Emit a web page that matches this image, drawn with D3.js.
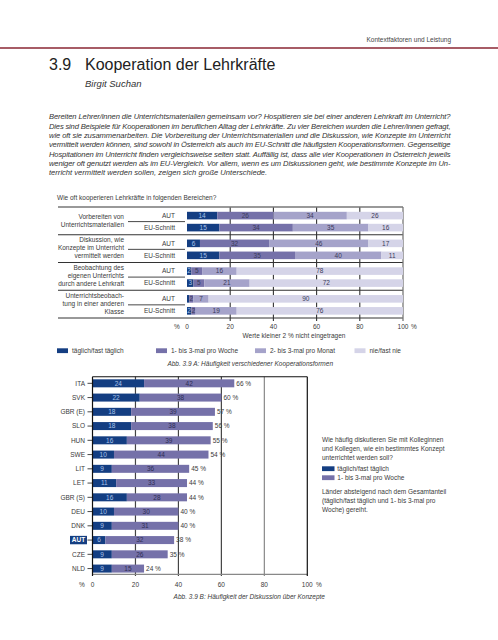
<!DOCTYPE html>
<html><head><meta charset="utf-8">
<script src="https://cdn.jsdelivr.net/npm/d3@7"></script>
<style>
html,body{margin:0;padding:0;background:#fff;}
svg{display:block;font-family:"Liberation Sans",Arial,sans-serif;}
</style></head>
<body>
<script>
// ---------- DATA ----------
const headerText = "Kontextfaktoren und Leistung";
const titleNum = "3.9";
const titleText = "Kooperation der Lehrkräfte";
const authorText = "Birgit Suchan";
const paragraphLines = [
  "Bereiten Lehrer/innen die Unterrichtsmaterialien gemeinsam vor? Hospitieren sie bei einer anderen Lehrkraft im Unterricht?",
  "Dies sind Beispiele für Kooperationen im beruflichen Alltag der Lehrkräfte. Zu vier Bereichen wurden die Lehrer/innen gefragt,",
  "wie oft sie zusammenarbeiten. Die Vorbereitung der Unterrichtsmaterialien und die Diskussion, wie Konzepte im Unterricht",
  "vermittelt werden können, sind sowohl in Österreich als auch im EU-Schnitt die häufigsten Kooperationsformen. Gegenseitige",
  "Hospitationen im Unterricht finden vergleichsweise selten statt. Auffällig ist, dass alle vier Kooperationen in Österreich jeweils",
  "weniger oft genutzt werden als im EU-Vergleich. Vor allem, wenn es um Diskussionen geht, wie bestimmte Konzepte im Un-",
  "terricht vermittelt werden sollen, zeigen sich große Unterschiede."
];
const questionA = "Wie oft kooperieren Lehrkräfte in folgenden Bereichen?";
const groupLabels = [
  ["Vorbereiten von","Unterrichtsmaterialien"],
  ["Diskussion, wie","Konzepte im Unterricht","vermittelt werden"],
  ["Beobachtung des","eigenen Unterrichts","durch andere Lehrkraft"],
  ["Unterrichtsbeobach-","tung in einer anderen","Klasse"]
];
const rowLabels = ["AUT","EU-Schnitt"];
const freqLabels = ["täglich/fast täglich","1- bis 3-mal pro Woche","2- bis 3-mal pro Monat","nie/fast nie"];
const autValues = [[14,26,34,26],[6,32,46,17],[2,5,16,78],[1,2,7,90]];
const euValues  = [[15,34,35,16],[15,35,40,11],[3,5,21,72],[2,2,19,76]];
const ticksA = [0,20,40,60,80,100];
const noteA = "Werte kleiner 2 % nicht eingetragen";
const captionA = "Abb. 3.9 A: Häufigkeit verschiedener Kooperationsformen";

const countries = ["ITA","SVK","GBR (E)","SLO","HUN","SWE","LIT","LET","GBR (S)","DEU","DNK","AUT","CZE","NLD"];
const daily  = [24,22,18,18,16,10,9,11,16,10,9,6,9,9];
const weekly = [42,38,39,38,39,44,36,33,28,30,31,32,26,15];
const totals = [66,60,57,56,55,54,45,44,44,40,40,38,35,24];
const ticksB = [0,20,40,60,80,100];
const questionB = ["Wie häufig diskutieren Sie mit Kolleginnen","und Kollegen, wie ein bestimmtes Konzept","unterrichtet werden soll?"];
const legendB = ["täglich/fast täglich","1- bis 3-mal pro Woche"];
const noteB = ["Länder absteigend nach dem Gesamtanteil","(täglich/fast täglich und 1- bis 3-mal pro","Woche) gereiht."];
const captionB = "Abb. 3.9 B: Häufigkeit der Diskussion über Konzepte";

// ---------- STYLE ----------
const colors = ["#143e82","#7571a9","#a5a3ca","#d5d4e8"];
const textCol = "#3a3a3a";
const FS = 6.5;

const W = 498, H = 640;
const svg = d3.select("body").append("svg").attr("width",W).attr("height",H);

// header
svg.append("text").attr("x",451).attr("y",41.5).attr("text-anchor","end")
  .attr("font-size",6.5).attr("fill","#444").text(headerText);
svg.append("line").attr("x1",0).attr("x2",W).attr("y1",48).attr("y2",48)
  .attr("stroke","#8a2633").attr("stroke-width",1.6);
svg.append("text").attr("x",49).attr("y",70).attr("font-size",16).attr("fill","#222")
  .attr("font-weight",300).text(titleNum);
svg.append("text").attr("x",85).attr("y",70).attr("font-size",16).attr("fill","#222")
  .attr("font-weight",300).text(titleText);
svg.append("text").attr("x",85).attr("y",86.5).attr("font-size",9.5).attr("font-style","italic")
  .attr("fill","#333").text(authorText);

// paragraph
paragraphLines.forEach((l,i)=>{
  const t = svg.append("text").attr("x",49).attr("y",119.3+i*9.3)
    .attr("font-size",7.6).attr("font-style","italic").attr("fill","#333").text(l);
  if(i<paragraphLines.length-1) t.attr("textLength",401.5).attr("lengthAdjust","spacing");
});

// ---------- CHART A ----------
const xA = d3.scaleLinear().domain([0,100]).range([187,403]);
const gA = d3.scaleBand().domain(d3.range(groupLabels.length)).range([207,318]).padding(0);
const step = gA.bandwidth();
const barH = 7.6;
const rowY = (g,r)=> gA(g) + 8.6 + r*12;

svg.append("text").attr("x",57).attr("y",199.5).attr("font-size",FS).attr("fill",textCol).text(questionA);

// gridlines (behind bars)
ticksA.filter(t=>t>0 && t<100).forEach(t=>{
  svg.append("line").attr("x1",xA(t)).attr("x2",xA(t)).attr("y1",207).attr("y2",321)
    .attr("stroke","#333").attr("stroke-width",1.1);
});

// group separators
d3.range(groupLabels.length+1).forEach(i=>{
  const y = i<groupLabels.length ? gA(i) : 318;
  svg.append("line").attr("x1",58).attr("x2",403).attr("y1",y).attr("y2",y)
    .attr("stroke", i===0 ? "#777" : "#333").attr("stroke-width", i===0?1.3:1);
});
// right border
svg.append("line").attr("x1",xA(100)).attr("x2",xA(100)).attr("y1",207).attr("y2",321)
  .attr("stroke","#777").attr("stroke-width",1.3);

groupLabels.forEach((lines,g)=>{
  const mid = gA(g)+step/2 - 0.6;
  const lh = 7.9;
  lines.forEach((l,k)=>{
    svg.append("text").attr("x",124).attr("y",mid + (k-(lines.length-1)/2)*lh + 2.3)
      .attr("text-anchor","end").attr("font-size",FS).attr("fill",textCol).text(l);
  });
  svg.append("line").attr("x1",128).attr("x2",185).attr("y1",gA(g)+14.6).attr("y2",gA(g)+14.6)
    .attr("stroke","#333").attr("stroke-width",0.9);
  [autValues[g],euValues[g]].forEach((vals,r)=>{
    const y = rowY(g,r);
    svg.append("text").attr("x",175).attr("y",y+2.3).attr("text-anchor","end")
      .attr("font-size",FS).attr("fill",textCol).text(rowLabels[r]);
    let cum = 0;
    vals.forEach((v,k)=>{
      const s = cum; cum += v;
      const e = k===vals.length-1 ? 100 : Math.min(cum,100);
      svg.append("rect").attr("x",xA(s)).attr("y",y-barH/2)
        .attr("width",Math.max(0,xA(e)-xA(s))).attr("height",barH).attr("fill",colors[k]);
      if(v>=2){
        svg.append("text").attr("x",(xA(s)+xA(e))/2).attr("y",y+2.3).attr("text-anchor","middle")
          .attr("font-size",FS).attr("fill", k===0 ? "#a9c2ea" : "#3a3a5a").text(v);
      }
    });
  });
});

// axis labels A
ticksA.forEach(t=>{
  svg.append("text").attr("x",xA(t)).attr("y",329).attr("text-anchor","middle")
    .attr("font-size",FS).attr("fill",textCol).text(t);
});
svg.append("text").attr("x",177).attr("y",329).attr("text-anchor","middle").attr("font-size",FS).attr("fill",textCol).text("%");
svg.append("text").attr("x",414).attr("y",329).attr("text-anchor","middle").attr("font-size",FS).attr("fill",textCol).text("%");
svg.append("text").attr("x",294).attr("y",337.5).attr("text-anchor","middle").attr("font-size",FS).attr("fill",textCol).text(noteA);

// legend A
const legX = [57,156,255,354.5];
freqLabels.forEach((l,i)=>{
  svg.append("rect").attr("x",legX[i]).attr("y",348.3).attr("width",11).attr("height",4.8).attr("fill",colors[i]);
  svg.append("text").attr("x",legX[i]+15).attr("y",353).attr("font-size",FS).attr("fill",textCol).text(l);
});
svg.append("text").attr("x",333).attr("y",366).attr("text-anchor","end").attr("font-size",FS)
  .attr("font-style","italic").attr("fill",textCol).text(captionA);

// ---------- CHART B ----------
const xB = d3.scaleLinear().domain([0,100]).range([92.5,307.3]);
const yB = d3.scaleBand().domain(countries).range([376.2,575.7]).padding(0);
const bH = 8;
const cy = c=> yB(c)+yB.bandwidth()/2;

ticksB.filter(t=>t>0 && t<100).forEach(t=>{
  svg.append("line").attr("x1",xB(t)).attr("x2",xB(t)).attr("y1",376.7).attr("y2",576)
    .attr("stroke", t>=80 ? "#888" : "#444").attr("stroke-width",1.2);
});
svg.append("line").attr("x1",xB(0)).attr("x2",xB(100)).attr("y1",376.7).attr("y2",376.7).attr("stroke","#111").attr("stroke-width",1.1);
svg.append("line").attr("x1",xB(0)).attr("x2",xB(100)).attr("y1",574.3).attr("y2",574.3).attr("stroke","#888").attr("stroke-width",1.2);
svg.append("line").attr("x1",xB(100)).attr("x2",xB(100)).attr("y1",376.7).attr("y2",576).attr("stroke","#111").attr("stroke-width",1.2);

countries.forEach((c,i)=>{
  const y = cy(c);
  svg.append("rect").attr("x",xB(0)).attr("y",y-bH/2).attr("width",xB(daily[i])-xB(0)).attr("height",bH).attr("fill",colors[0]);
  svg.append("rect").attr("x",xB(daily[i])).attr("y",y-bH/2).attr("width",xB(daily[i]+weekly[i])-xB(daily[i])).attr("height",bH).attr("fill",colors[1]);
  svg.append("text").attr("x",(xB(0)+xB(daily[i]))/2).attr("y",y+2.3).attr("text-anchor","middle")
    .attr("font-size",FS).attr("fill","#a9c2ea").text(daily[i]);
  svg.append("text").attr("x",(xB(daily[i])+xB(daily[i]+weekly[i]))/2).attr("y",y+2.3).attr("text-anchor","middle")
    .attr("font-size",FS).attr("fill","#2e2e55").text(weekly[i]);
  svg.append("text").attr("x",xB(daily[i]+weekly[i])+2).attr("y",y+2.3)
    .attr("font-size",FS).attr("fill",textCol).text(totals[i]+" %");
  // tick + label
  svg.append("line").attr("x1",87.5).attr("x2",xB(0)).attr("y1",y).attr("y2",y).attr("stroke","#333").attr("stroke-width",0.9);
  if(c==="AUT"){
    svg.append("rect").attr("x",70).attr("y",y-4.2).attr("width",17).attr("height",8.4).attr("fill",colors[0]);
    svg.append("text").attr("x",78.5).attr("y",y+2.3).attr("text-anchor","middle").attr("font-size",FS)
      .attr("font-weight","bold").attr("fill","#fff").text(c);
  } else {
    svg.append("text").attr("x",85).attr("y",y+2.3).attr("text-anchor","end").attr("font-size",FS).attr("fill",textCol).text(c);
  }
});
svg.append("line").attr("x1",xB(0)).attr("x2",xB(0)).attr("y1",376.7).attr("y2",576).attr("stroke","#111").attr("stroke-width",1.2);

ticksB.forEach(t=>{
  svg.append("text").attr("x",xB(t)).attr("y",586.8).attr("text-anchor","middle").attr("font-size",FS).attr("fill",textCol).text(t);
});
svg.append("text").attr("x",82).attr("y",586.8).attr("text-anchor","middle").attr("font-size",FS).attr("fill",textCol).text("%");
svg.append("text").attr("x",319).attr("y",586.8).attr("text-anchor","middle").attr("font-size",FS).attr("fill",textCol).text("%");
svg.append("text").attr("x",325).attr("y",599).attr("text-anchor","end").attr("font-size",FS)
  .attr("font-style","italic").attr("fill",textCol).text(captionB);

// right text block
questionB.forEach((l,i)=>{
  svg.append("text").attr("x",322).attr("y",442.3+i*8.9).attr("font-size",FS).attr("fill",textCol).text(l);
});
legendB.forEach((l,i)=>{
  svg.append("rect").attr("x",322).attr("y",466.3+i*9).attr("width",12.5).attr("height",4.8).attr("fill",colors[i]);
  svg.append("text").attr("x",337.3).attr("y",471+i*9).attr("font-size",FS).attr("fill",textCol).text(l);
});
noteB.forEach((l,i)=>{
  svg.append("text").attr("x",322).attr("y",494+i*9).attr("font-size",FS).attr("fill",textCol).text(l);
});
</script>
</body></html>
